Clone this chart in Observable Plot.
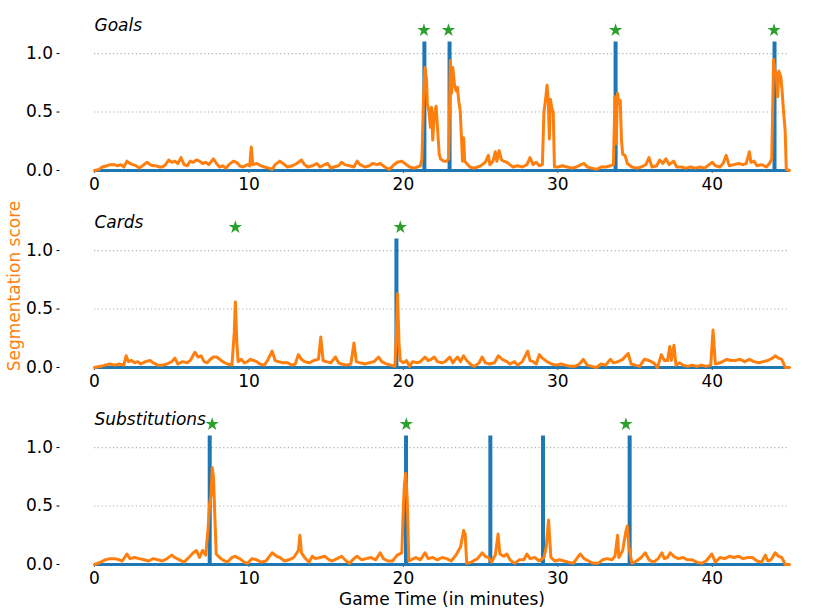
<!DOCTYPE html>
<html>
<head>
<meta charset="utf-8">
<script src="https://cdn.jsdelivr.net/npm/d3@7"></script>
<script src="https://cdn.jsdelivr.net/npm/@observablehq/plot@0.6"></script>
<style>
  html, body { margin: 0; padding: 0; background: #fff; }
  #wrap { position: relative; width: 831px; height: 614px; font-family: "DejaVu Sans", sans-serif; }
  #wrap svg { display: block; }
  #ylab { position: absolute; left: 13.5px; top: 286px; transform: translate(-50%, -50%) rotate(-90deg);
          white-space: nowrap; font-size: 17px; color: #ff7f0e; font-family: "DejaVu Sans", sans-serif; }
</style>
</head>
<body>
<div id="wrap"><div id="ylab">Segmentation score</div></div>
<script>
// ---------- data ----------
const panelTitles = ["Goals", "Cards", "Substitutions"];
const xTicks = [0, 10, 20, 30, 40];
const yTicks = [0, 0.5, 1.0];
const gridLevels = [0.5, 1.0];
const gtLevel = 1.1;     // height of ground-truth spikes
const starLevel = 1.2;   // height of predicted-event stars

const goalsEvents = [21.36, 22.99, 33.74, 44.03];
const goalsPreds  = [21.33, 22.92, 33.74, 44.0];
const cardsEvents = [19.55];
const cardsPreds  = [9.12, 19.8];
const subsEvents  = [7.46, 20.17, 25.63, 29.04, 34.65];
const subsPreds   = [7.62, 20.19, 34.41];

const goalsTime = [0,0.3,0.5,0.8,1.0,1.3,1.5,1.7,1.9,2.1,2.3,2.5,2.7,2.9,3.1,3.4,3.6,3.8,4.0,4.2,4.4,4.6,4.8,5.0,5.2,5.4,5.6,5.8,6.0,6.2,6.4,6.6,6.8,7.0,7.2,7.4,7.7,7.9,8.1,8.3,8.5,8.7,9.0,9.2,9.4,9.6,9.9,10.05,10.15,10.25,10.5,10.8,11.0,11.3,11.5,11.7,12.0,12.2,12.5,12.8,13.1,13.4,13.6,13.8,14.1,14.4,14.6,14.9,15.1,15.3,15.5,15.8,16.0,16.2,16.5,16.8,17.0,17.2,17.5,17.8,18.0,18.3,18.5,18.8,19.1,19.4,19.6,19.9,20.1,20.4,20.7,20.9,21.1,21.2,21.3,21.4,21.5,21.55,21.65,21.75,21.82,21.9,22.0,22.12,22.22,22.32,22.4,22.6,22.8,22.93,23.04,23.12,23.2,23.3,23.42,23.5,23.58,23.68,23.76,23.83,23.9,23.97,24.1,24.3,24.55,24.8,25.0,25.3,25.5,25.6,25.8,25.95,26.05,26.2,26.35,26.5,26.7,26.9,27.1,27.4,27.7,28.0,28.2,28.4,28.6,28.8,29.0,29.1,29.2,29.3,29.38,29.45,29.52,29.6,29.7,29.78,30.0,30.3,30.6,30.9,31.2,31.5,31.7,31.9,32.2,32.5,32.8,33.1,33.4,33.6,33.7,33.78,33.86,33.95,34.04,34.12,34.2,34.35,34.5,34.8,35.1,35.4,35.7,35.9,36.1,36.4,36.6,36.8,37.0,37.2,37.5,37.7,38.0,38.3,38.6,38.9,39.2,39.5,39.8,40.0,40.2,40.5,40.7,40.9,41.1,41.4,41.7,42.0,42.2,42.4,42.5,42.7,42.9,43.2,43.5,43.7,43.85,43.97,44.06,44.14,44.23,44.31,44.44,44.52,44.61,44.72,44.79,45.0];
const goalsScore = [0,0.01,0.03,0.04,0.05,0.05,0.04,0.05,0.03,0.08,0.06,0.05,0.04,0.02,0.04,0.07,0.05,0.04,0.04,0.03,0.03,0.05,0.09,0.07,0.08,0.06,0.11,0.05,0.04,0.08,0.07,0.09,0.08,0.06,0.07,0.05,0.1,0.06,0.03,0.04,0.02,0.05,0.08,0.07,0.04,0.03,0.05,0.04,0.2,0.05,0.06,0.04,0.03,0.02,0.01,0.05,0.08,0.06,0.03,0.04,0.06,0.09,0.05,0.03,0.04,0.06,0.03,0.05,0.06,0.02,0.03,0.04,0.07,0.05,0.04,0.03,0.08,0.05,0.03,0.04,0.06,0.05,0.06,0.03,0.01,0.05,0.07,0.08,0.06,0.03,0.02,0.03,0.04,0.1,0.6,0.88,0.77,0.57,0.51,0.37,0.54,0.26,0.48,0.55,0.34,0.14,0.1,0.08,0.08,0.1,0.94,0.66,0.88,0.74,0.68,0.71,0.6,0.51,0.28,0.08,0.28,0.08,0.06,0.03,0.02,0.03,0.04,0.07,0.13,0.05,0.08,0.16,0.08,0.17,0.09,0.08,0.07,0.05,0.03,0.04,0.03,0.05,0.11,0.05,0.07,0.04,0.05,0.5,0.6,0.73,0.6,0.27,0.61,0.54,0.5,0.03,0.03,0.04,0.03,0.02,0.03,0.05,0.06,0.03,0.02,0.01,0.03,0.03,0.04,0.05,0.63,0.23,0.66,0.57,0.6,0.26,0.14,0.13,0.06,0.03,0.02,0.03,0.05,0.11,0.03,0.04,0.09,0.06,0.1,0.05,0.08,0.03,0.03,0.02,0.03,0.02,0.03,0.02,0.05,0.07,0.04,0.03,0.06,0.13,0.04,0.05,0.06,0.05,0.06,0.16,0.07,0.08,0.04,0.05,0.03,0.06,0.1,0.95,0.85,0.83,0.63,0.85,0.8,0.68,0.51,0.34,0.01,0.0];

const cardsTime = [0,0.4,0.7,1.0,1.3,1.6,1.9,2.05,2.2,2.4,2.6,2.8,3.0,3.3,3.6,3.8,4.1,4.4,4.7,5.0,5.2,5.4,5.7,6.0,6.2,6.5,6.7,6.9,7.1,7.3,7.5,7.7,7.9,8.1,8.3,8.6,8.9,9.05,9.12,9.22,9.3,9.5,9.7,9.9,10.1,10.3,10.5,10.7,11.0,11.2,11.5,11.7,11.9,12.2,12.5,12.8,13.0,13.2,13.4,13.6,13.9,14.2,14.5,14.65,14.8,15.0,15.3,15.6,15.8,16.0,16.3,16.6,16.8,16.95,17.2,17.5,17.8,18.1,18.4,18.6,18.9,19.2,19.45,19.55,19.62,19.72,19.8,20.0,20.2,20.4,20.6,20.9,21.1,21.4,21.6,21.8,22.0,22.2,22.5,22.7,23.0,23.2,23.5,23.7,23.9,24.1,24.4,24.6,24.9,25.1,25.3,25.6,25.9,26.15,26.4,26.7,26.9,27.2,27.4,27.7,28.05,28.2,28.4,28.6,28.8,29.0,29.3,29.6,29.9,30.2,30.5,30.8,31.1,31.4,31.65,31.9,32.2,32.5,32.8,33.1,33.4,33.6,33.9,34.2,34.55,34.75,35.0,35.3,35.6,35.9,36.2,36.45,36.7,36.9,37.1,37.25,37.35,37.52,37.65,37.9,38.1,38.4,38.7,39.0,39.3,39.6,39.9,40.05,40.2,40.5,40.95,41.2,41.5,41.8,42.1,42.4,42.7,43.0,43.3,43.6,43.9,44.07,44.3,44.5,44.73,45.0];
const cardsScore = [0,0.01,0.02,0.03,0.02,0.03,0.02,0.1,0.05,0.06,0.04,0.05,0.03,0.05,0.06,0.04,0.02,0.02,0.03,0.05,0.08,0.03,0.05,0.04,0.06,0.13,0.09,0.1,0.05,0.04,0.07,0.09,0.09,0.07,0.05,0.03,0.02,0.3,0.56,0.2,0.05,0.07,0.04,0.05,0.07,0.06,0.05,0.03,0.02,0.06,0.14,0.06,0.05,0.04,0.04,0.02,0.03,0.11,0.07,0.05,0.04,0.06,0.07,0.26,0.06,0.05,0.04,0.09,0.04,0.03,0.02,0.03,0.21,0.05,0.04,0.03,0.04,0.05,0.09,0.05,0.03,0.02,0.01,0.3,0.63,0.2,0.06,0.04,0.06,0.01,0.05,0.04,0.05,0.09,0.06,0.07,0.09,0.05,0.04,0.05,0.09,0.04,0.09,0.05,0.1,0.06,0.02,0.01,0.04,0.09,0.04,0.03,0.04,0.1,0.07,0.05,0.03,0.05,0.02,0.05,0.14,0.06,0.05,0.03,0.11,0.08,0.05,0.03,0.02,0.03,0.02,0.01,0.01,0.03,0.07,0.02,0.01,0.0,0.03,0.02,0.07,0.04,0.05,0.07,0.12,0.03,0.02,0.01,0.07,0.06,0.04,0.0,0.11,0.06,0.06,0.18,0.06,0.19,0.02,0.04,0.02,0.01,0.02,0.01,0.02,0.01,0.02,0.32,0.03,0.04,0.07,0.06,0.06,0.07,0.05,0.07,0.05,0.04,0.05,0.06,0.08,0.1,0.08,0.07,0.0,0.0];

const subsTime = [0,0.4,0.7,1.0,1.3,1.6,1.8,2.1,2.3,2.6,2.9,3.2,3.5,3.8,4.1,4.4,4.7,5.0,5.2,5.5,5.8,6.1,6.4,6.6,6.8,7.0,7.2,7.35,7.45,7.55,7.62,7.7,7.78,7.88,8.1,8.3,8.6,8.9,9.1,9.4,9.7,9.9,10.2,10.5,10.8,11.1,11.5,11.8,12.0,12.3,12.6,12.9,13.2,13.3,13.4,13.6,13.9,14.1,14.3,14.6,14.9,15.2,15.4,15.7,16.0,16.3,16.5,16.8,17.0,17.3,17.6,17.9,18.2,18.5,18.7,19.0,19.3,19.6,19.9,20.0,20.07,20.15,20.25,20.35,20.5,20.8,21.1,21.4,21.6,21.9,22.2,22.5,22.8,23.1,23.4,23.7,23.9,24.0,24.1,24.4,24.8,25.1,25.3,25.5,25.7,25.95,26.13,26.25,26.5,26.7,26.9,27.2,27.5,27.8,28.0,28.2,28.5,28.8,29.1,29.25,29.4,29.55,29.8,30.1,30.4,30.7,31.0,31.45,31.7,32.0,32.3,32.6,32.9,33.2,33.5,33.7,33.87,33.95,34.2,34.4,34.5,34.6,34.8,35.1,35.4,35.66,35.9,36.2,36.5,36.74,36.9,37.1,37.28,37.5,37.8,38.1,38.4,38.7,39.0,39.3,39.6,39.97,40.2,40.5,40.8,41.1,41.4,41.7,42.0,42.3,42.6,42.9,43.2,43.43,43.6,43.8,44.07,44.3,44.5,44.73,45.0];
const subsScore = [0,0.02,0.04,0.05,0.05,0.04,0.03,0.09,0.05,0.06,0.05,0.04,0.03,0.05,0.04,0.03,0.05,0.08,0.06,0.04,0.02,0.06,0.1,0.12,0.06,0.12,0.08,0.3,0.52,0.59,0.83,0.75,0.46,0.09,0.06,0.04,0.02,0.06,0.07,0.05,0.02,0.01,0.05,0.04,0.02,0.03,0.1,0.07,0.06,0.03,0.04,0.06,0.12,0.25,0.1,0.06,0.02,0.07,0.05,0.06,0.07,0.04,0.03,0.05,0.07,0.03,0.01,0.05,0.07,0.04,0.05,0.06,0.04,0.1,0.05,0.03,0.03,0.08,0.1,0.5,0.69,0.78,0.55,0.03,0.04,0.06,0.04,0.1,0.05,0.06,0.04,0.06,0.05,0.03,0.08,0.15,0.29,0.26,0.01,0.02,0.05,0.1,0.07,0.06,0.02,0.08,0.26,0.09,0.07,0.09,0.04,0.01,0.04,0.04,0.09,0.05,0.06,0.03,0.06,0.15,0.38,0.06,0.03,0.04,0.03,0.02,0.01,0.09,0.05,0.03,0.01,0.01,0.04,0.05,0.04,0.07,0.25,0.06,0.12,0.28,0.33,0.15,0.01,0.03,0.06,0.1,0.04,0.02,0.05,0.1,0.05,0.06,0.1,0.07,0.05,0.06,0.04,0.04,0.02,0.01,0.03,0.09,0.02,0.06,0.05,0.07,0.06,0.07,0.05,0.06,0.06,0.03,0.02,0.08,0.03,0.04,0.1,0.07,0.06,0.0,0.0];

// ---------- drawing ----------
const BLUE = "#1f77b4", ORANGE = "#ff7f0e", GREEN = "#2ca02c";
const panels = [
  {title: panelTitles[0], t: goalsTime, s: goalsScore, ev: goalsEvents, pr: goalsPreds},
  {title: panelTitles[1], t: cardsTime, s: cardsScore, ev: cardsEvents, pr: cardsPreds},
  {title: panelTitles[2], t: subsTime,  s: subsScore,  ev: subsEvents,  pr: subsPreds}
];

const wrap = document.getElementById("wrap");
panels.forEach((p, i) => {
  const last = i === panels.length - 1;
  const rows = p.t.map((t, k) => ({t, s: p.s[k]}));
  const marks = [
    Plot.gridY(gridLevels, {stroke: "#b0b0b0", strokeOpacity: 1, strokeWidth: 1.1, strokeDasharray: "1.2,2.6"}),
    Plot.axisY(yTicks, {tickFormat: d3.format(".1f"), tickSize: 3, tickPadding: 4, dx: -34.5, label: null, fontSize: 17}),
    Plot.axisX(xTicks, {tickSize: 3, tickPadding: 4, label: null, fontSize: 17, stroke: "#555"}),
    Plot.ruleY([0], {stroke: BLUE, strokeWidth: 3.2}),
    Plot.ruleX(p.ev, {x: d => d, y1: 0, y2: gtLevel, stroke: BLUE, strokeWidth: 4}),
    Plot.line(rows, {x: "t", y: "s", stroke: ORANGE, strokeWidth: 3, strokeLinejoin: "round"}),
    Plot.dot(p.pr, {x: d => d, y: starLevel, symbol: "star", r: 4.2, fill: GREEN, stroke: "none"}),
    Plot.text([p.title], {frameAnchor: "top-left", dy: 12.5, lineAnchor: "bottom", textAnchor: "start",
      text: d => d, fontStyle: "italic", fontSize: 17, fill: "black"})
  ];
  if (last) {
    marks.push(Plot.text(["Game Time (in minutes)"], {frameAnchor: "bottom", dy: 40.5, lineAnchor: "bottom",
      text: d => d, fontSize: 17, fill: "black"}));
  }
  const chart = Plot.plot({
    width: 831,
    height: last ? 220 : 197,
    marginLeft: 94,
    marginRight: 42,
    marginTop: 18,
    marginBottom: last ? 50 : 27,
    style: {fontFamily: "DejaVu Sans", fontSize: "17px", background: "white", overflow: "visible"},
    x: {domain: [0, 45], axis: null},
    y: {domain: [0, 1.3], axis: null},
    marks
  });
  wrap.appendChild(chart);
});
</script>
</body>
</html>
